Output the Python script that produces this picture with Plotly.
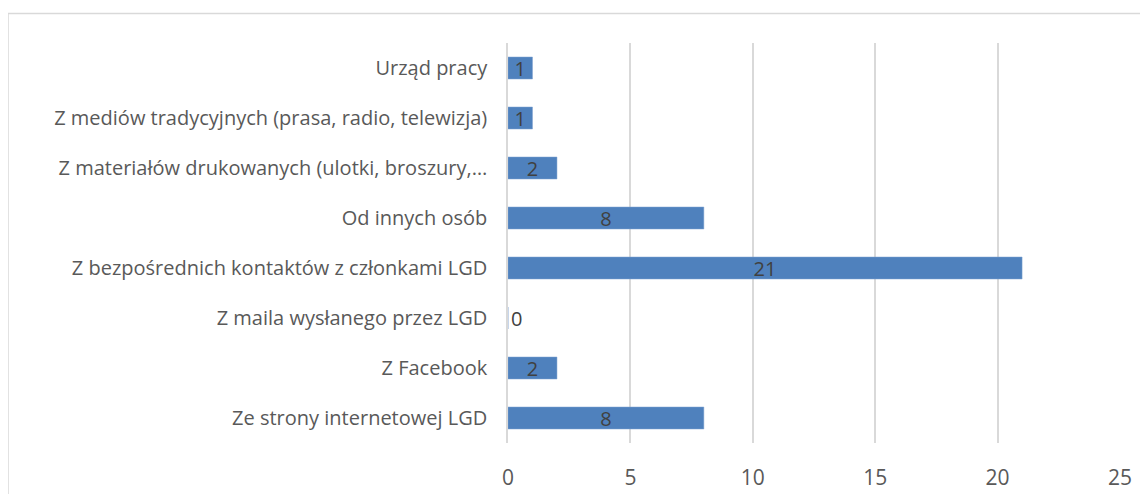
import plotly.graph_objects as go

categories = [
    "Urząd pracy",
    "Z mediów tradycyjnych (prasa, radio, telewizja)",
    "Z materiałów drukowanych (ulotki, broszury,…",
    "Od innych osób",
    "Z bezpośrednich kontaktów z członkami LGD",
    "Z maila wysłanego przez LGD",
    "Z Facebook",
    "Ze strony internetowej LGD",
]
values = [1, 1, 2, 8, 21, 0, 2, 8]
x_ticks = [0, 5, 10, 15, 20, 25]

# page has an 8px body margin, so the figure is drawn 8px smaller and offset
W, H = 1140, 486
left, right, top, bottom = 500, 28, 35, 51
plot_w = W - left - right
plot_h = H - top - bottom

font_family = "'Open Sans', sans-serif"

fig = go.Figure()

fig.add_trace(
    go.Bar(
        x=values,
        y=categories,
        orientation="h",
        marker=dict(color="#4F81BD", line=dict(color="#7FA3D0", width=0.5)),
        text=[str(v) for v in values],
        textposition=["inside" if v > 0 else "outside" for v in values],
        textangle=0,
        insidetextanchor="middle",
        constraintext="none",
        textfont=dict(family=font_family, size=20, color="#404040"),
        cliponaxis=False,
        hoverinfo="skip",
    )
)

# chart frame (top + left edges visible in the source)
fig.add_shape(
    type="rect",
    xref="paper",
    yref="paper",
    x0=(0 - left) / plot_w,
    x1=(W + 20 - left) / plot_w,
    y0=-(H + 20 - top - plot_h) / plot_h,
    y1=(plot_h + top - 5.5) / plot_h,
    line=dict(color="#D9D9D9", width=1.5),
    layer="below",
)

fig.update_layout(
    width=W,
    height=H,
    margin=dict(l=left, r=right, t=top, b=bottom, autoexpand=False),
    paper_bgcolor="white",
    plot_bgcolor="white",
    bargap=0.56,
    showlegend=False,
    font=dict(family=font_family, size=20, color="#595959"),
    xaxis=dict(
        range=[0, 25],
        tickvals=x_ticks,
        showgrid=True,
        gridcolor="#D9D9D9",
        gridwidth=1.5,
        zeroline=False,
        showline=False,
        ticks="",
        ticklabelstandoff=20,
        tickfont=dict(size=21, color="#595959"),
    ),
    yaxis=dict(
        autorange="reversed",
        showline=True,
        linecolor="#D9D9D9",
        linewidth=1.5,
        ticks="",
        ticklabelstandoff=15,
        tickfont=dict(size=20, color="#595959"),
    ),
)

fig.write_html("out.html")
